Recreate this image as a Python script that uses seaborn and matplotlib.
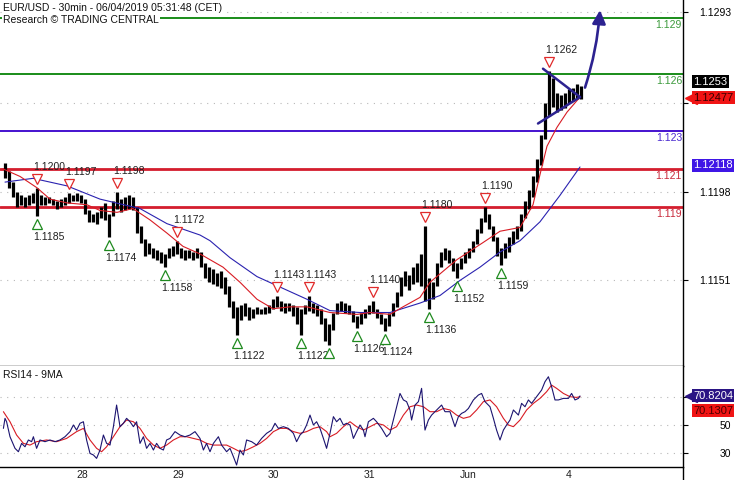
import numpy as np
import matplotlib
matplotlib.use("Agg")
import matplotlib.pyplot as plt
import matplotlib.transforms as mtransforms
from matplotlib.lines import Line2D
import seaborn as sns

sns.set_style("white")
plt.rcParams['font.family'] = ['Liberation Sans', 'DejaVu Sans']

# ---------------- data (time axis = 30-min bar index) ----------------
bar_high = [1.1213, 1.1209, 1.1203, 1.1198, 1.1196, 1.1195, 1.1196, 1.1197, 1.1200, 1.1196,
            1.1195, 1.1195, 1.1194, 1.1193, 1.1194, 1.1195, 1.1197, 1.1196, 1.1197, 1.1196,
            1.1194, 1.1188, 1.1186, 1.1187, 1.1190, 1.1192, 1.1186, 1.1193, 1.1198, 1.1194,
            1.1195, 1.1196, 1.1195, 1.1190, 1.1180, 1.1173, 1.1171, 1.1168, 1.1167, 1.1166,
            1.1165, 1.1168, 1.1169, 1.1172, 1.1168, 1.1167, 1.1167, 1.1166, 1.1168, 1.1166,
            1.1160, 1.1158, 1.1157, 1.1155, 1.1156, 1.1153, 1.1148, 1.1140, 1.1137, 1.1138,
            1.1139, 1.1137, 1.1136, 1.1137, 1.1136, 1.1137, 1.1138, 1.1141, 1.1143, 1.1140,
            1.1139, 1.1139, 1.1138, 1.1137, 1.1136, 1.1138, 1.1143, 1.1139, 1.1138, 1.1136,
            1.1131, 1.1128, 1.1134, 1.1139, 1.1140, 1.1139, 1.1138, 1.1135, 1.1132, 1.1134,
            1.1136, 1.1138, 1.1140, 1.1136, 1.1133, 1.1131, 1.1134, 1.1139, 1.1145, 1.1153,
            1.1156, 1.1154, 1.1158, 1.1160, 1.1165, 1.1180, 1.1152, 1.1150, 1.1160, 1.1166,
            1.1168, 1.1167, 1.1163, 1.1160, 1.1163, 1.1166, 1.1168, 1.1172, 1.1178, 1.1184,
            1.1190, 1.1186, 1.1180, 1.1174, 1.1168, 1.1171, 1.1174, 1.1177, 1.1180, 1.1186,
            1.1193, 1.1199, 1.1206, 1.1215, 1.1228, 1.1245, 1.1262, 1.1258, 1.1250, 1.1249,
            1.1250, 1.1252, 1.1253, 1.1255, 1.1254]
bar_low = [1.1205, 1.1200, 1.1195, 1.1190, 1.1191, 1.1190, 1.1191, 1.1192, 1.1185, 1.1191,
           1.1191, 1.1192, 1.1191, 1.1189, 1.1190, 1.1191, 1.1192, 1.1193, 1.1193, 1.1192,
           1.1186, 1.1182, 1.1182, 1.1181, 1.1184, 1.1183, 1.1174, 1.1185, 1.1189, 1.1187,
           1.1188, 1.1189, 1.1188, 1.1176, 1.1171, 1.1164, 1.1165, 1.1163, 1.1162, 1.1160,
           1.1158, 1.1163, 1.1164, 1.1165, 1.1163, 1.1162, 1.1163, 1.1162, 1.1163, 1.1158,
           1.1152, 1.1150, 1.1149, 1.1148, 1.1147, 1.1144, 1.1137, 1.1131, 1.1122, 1.1130,
           1.1132, 1.1130, 1.1131, 1.1133, 1.1133, 1.1133, 1.1134, 1.1136, 1.1137, 1.1135,
           1.1134, 1.1135, 1.1132, 1.1128, 1.1122, 1.1133, 1.1135, 1.1134, 1.1132, 1.1128,
           1.1119, 1.1117, 1.1125, 1.1133, 1.1135, 1.1134, 1.1133, 1.1129, 1.1126, 1.1128,
           1.1131, 1.1133, 1.1134, 1.1131, 1.1128, 1.1124, 1.1127, 1.1132, 1.1137, 1.1143,
           1.1148, 1.1146, 1.1149, 1.1150, 1.1148, 1.1140, 1.1136, 1.1141, 1.1148, 1.1158,
           1.1162, 1.1160, 1.1156, 1.1152, 1.1157, 1.1160, 1.1163, 1.1166, 1.1170, 1.1176,
           1.1182, 1.1178, 1.1172, 1.1164, 1.1159, 1.1163, 1.1166, 1.1170, 1.1173, 1.1177,
           1.1184, 1.1189, 1.1195, 1.1203, 1.1212, 1.1226, 1.1238, 1.1243, 1.1240, 1.1241,
           1.1242, 1.1245, 1.1246, 1.1247, 1.1247]
bar_step = 2  # each drawn bar spans two 30-min periods

ma_fast_t = [-1, 7.5, 16, 22.5, 31, 41, 47.5, 56, 64, 72.5, 81, 89, 97.5, 109, 117.5, 126, 134,
             142.5, 151, 162.5, 176, 182.5, 192.5, 199, 207.5, 212.5, 226, 239, 247.5, 257.5,
             264, 267.5, 271, 276, 281, 287.5]
ma_fast_v = [1.1210, 1.1206, 1.1200, 1.1194, 1.1192, 1.1191, 1.1188, 1.1187, 1.1189, 1.1183,
             1.1176, 1.1169, 1.1165, 1.1158, 1.1150, 1.1141, 1.1136, 1.1137, 1.1137, 1.1134,
             1.1133, 1.1134, 1.1133, 1.1137, 1.1142, 1.1150, 1.1162, 1.1171, 1.1177, 1.1179,
             1.1191, 1.1207, 1.1222, 1.1232, 1.1240, 1.1248]
ma_slow_t = [0, 14, 31, 47.5, 67.5, 81, 97.5, 102.5, 112.5, 126, 151, 162.5, 177.5, 192.5,
             207.5, 217.5, 227.5, 237.5, 247.5, 257.5, 267.5, 277.5, 287.5]
ma_slow_v = [1.1203, 1.1205, 1.1201, 1.1194, 1.1189, 1.1181, 1.1175, 1.1172, 1.1163, 1.1153,
             1.1141, 1.1135, 1.1134, 1.1134, 1.1139, 1.1143, 1.1151, 1.1158, 1.1166, 1.1172,
             1.1182, 1.1196, 1.1211]

rsi_t = [-0.8, 0.0, 0.8, 2.5, 5.0, 6.7, 8.3, 10.0, 11.7, 13.3, 14.2, 15.8, 17.5, 20.0, 22.5,
         25.0, 27.5, 30.0, 32.5, 34.2, 35.8, 37.5, 39.2, 40.8, 42.5, 44.2, 45.8, 47.5, 49.2,
         50.8, 52.5, 54.2, 55.8, 57.5, 59.2, 60.8, 62.5, 64.2, 65.8, 67.5, 69.2, 70.8, 72.5,
         74.2, 75.8, 77.5, 79.2, 80.8, 82.5, 85.0, 87.5, 90.0, 92.5, 95.0, 97.5, 99.2, 100.8,
         102.5, 104.2, 106.7, 108.3, 110.8, 112.5, 114.2, 115.8, 117.5, 119.2, 120.8, 123.3,
         125.8, 128.3, 130.8, 133.3, 135.0, 136.7, 139.2, 141.7, 144.2, 145.8, 147.5, 149.2,
         150.8, 152.5, 154.2, 155.8, 157.5, 159.2, 160.8, 162.5, 164.2, 165.8, 167.5, 169.2,
         170.8, 172.5, 174.2, 175.8, 177.5, 179.2, 180.0, 181.7, 184.2, 185.8, 188.3, 190.8,
         192.5, 195.0, 197.5, 199.2, 200.8, 202.5, 203.3, 205.0, 206.7, 208.3, 210.0, 211.7,
         213.3, 215.0, 216.7, 218.3, 220.0, 222.5, 225.0, 226.7, 228.3, 230.0, 231.7, 234.2,
         236.7, 238.3, 240.0, 242.5, 244.2, 245.8, 247.5, 249.2, 250.8, 252.5, 254.2, 256.7,
         258.3, 260.0, 261.7, 263.3, 265.8, 268.3, 270.0, 271.7, 273.3, 275.0, 276.7, 279.2,
         281.7, 283.3, 285.0, 286.7, 287.5]
rsi_v = [47.6, 54.7, 52.3, 41.7, 33.5, 31.1, 37.0, 34.6, 39.4, 38.2, 41.7, 33.5, 39.4, 38.2, 39.4,
         38.2, 39.4, 41.7, 45.3, 50.0, 46.4, 51.2, 52.3, 39.4, 29.9, 28.8, 26.4, 32.3, 42.9,
         37.0, 35.8, 48.8, 64.1, 48.8, 51.2, 54.7, 52.3, 48.8, 52.3, 37.0, 41.7, 33.5, 37.0,
         32.3, 37.0, 33.5, 32.3, 39.4, 40.5, 45.3, 42.9, 41.7, 42.9, 45.3, 40.5, 32.3, 37.0,
         31.1, 37.0, 41.7, 35.8, 31.1, 33.5, 27.6, 21.7, 32.3, 28.8, 39.4, 38.2,
         35.8, 40.5, 44.1, 46.4, 51.2, 47.6, 48.8, 47.6, 44.1, 38.2, 42.9, 45.3,
         50.0, 57.0, 50.0, 52.3, 47.6, 40.5, 33.5, 44.1, 55.9, 52.3, 54.7, 50.0,
         51.2, 50.0, 40.5, 45.3, 50.0, 46.4, 41.7, 52.3, 54.7, 52.3, 47.6, 41.7,
         44.1, 58.2, 72.3, 67.7, 66.5, 60.6, 53.5, 64.1, 66.5, 75.9, 46.4, 53.5,
         57.0, 59.4, 61.7, 64.1, 59.4, 59.4, 48.8, 55.9, 58.2, 59.4, 61.7, 67.7,
         71.2, 72.3, 66.5, 62.9, 54.7, 46.4, 39.4, 46.4, 50.0, 53.5, 60.6, 57.0,
         65.3, 62.9, 67.7, 65.3, 70.0, 74.7, 80.6, 84.1, 77.1, 67.7, 67.7, 68.8,
         68.8, 72.3, 67.7, 68.8, 70.5]
rsi_ma_t = [-0.8, 2.5, 5.8, 9.2, 12.5, 15.8, 20.8, 25.8, 30.8, 35.8, 39.2, 42.5, 45.8, 48.3,
            50.8, 54.2, 57.5, 60.8, 64.2, 67.5, 70.8, 74.2, 77.5, 80.8, 84.2, 87.5, 90.8, 94.2,
            97.5, 100.8, 104.2, 107.5, 110.8, 114.2, 117.5, 120.8, 124.2, 127.5, 130.8, 134.2,
            137.5, 140.8, 144.2, 147.5, 150.8, 154.2, 157.5, 160.8, 162.5, 165.8, 169.2, 172.5,
            175.8, 179.2, 182.5, 185.8, 189.2, 192.5, 195.8, 199.2, 202.5, 205.8, 209.2, 212.5,
            215.8, 219.2, 222.5, 225.8, 229.2, 232.5, 235.8, 239.2, 242.5, 245.8, 249.2, 251.7,
            254.2, 257.5, 260.8, 264.2, 267.5, 270.8, 273.3, 275.8, 279.2, 282.5, 285.8, 287.5]
rsi_ma_v = [59.4, 52.3, 42.9, 37.0, 35.8, 38.2, 39.4, 38.2, 40.5, 45.3, 47.6, 39.4, 33.5, 31.1,
            34.6, 41.7, 48.8, 53.5, 52.3, 47.6, 40.5, 35.8, 33.5, 35.8, 39.4, 41.7, 41.7, 40.5,
            39.4, 37.0, 35.8, 35.8, 35.8, 33.5, 31.1, 32.3, 34.6, 37.0, 40.5, 45.3,
            47.6, 47.6, 45.3, 44.1, 45.3, 47.6, 48.8, 45.3, 41.7, 44.1, 48.8, 52.3,
            48.8, 46.4, 48.8, 51.2, 50.0, 46.4, 48.8, 57.0, 62.9, 64.1, 62.9, 59.4,
            59.4, 61.7, 60.6, 57.0, 54.7, 55.9, 60.6, 66.5, 67.7, 62.9, 54.7, 50.0,
            48.8, 53.5, 60.6, 65.3, 68.8, 73.5, 78.2, 75.9, 72.3, 70.0, 69.5, 70.0]

levels = [1.129, 1.126, 1.123, 1.121, 1.119]
level_labels = ['1.129', '1.126', '1.123', '1.121', '1.119']
level_colors = ['#1f8f1f', '#1f8f1f', '#4a18d0', '#d41e2e', '#d41e2e']
level_text_colors = ['#3c9a3c', '#3c9a3c', '#4a2ad0', '#c8283a', '#c8283a']
level_widths = [2.0, 2.0, 2.0, 2.8, 2.8]

swing_high_t = [16, 32, 56, 86, 136, 152, 184, 210, 240, 272]
swing_high_v = [1.1200, 1.1197, 1.1198, 1.1172, 1.1143, 1.1143, 1.1140, 1.1180, 1.1190, 1.1262]
swing_low_t = [16, 52, 80, 116, 148, 162, 176, 190, 212, 226, 248]
swing_low_v = [1.1185, 1.1174, 1.1158, 1.1122, 1.1122, 1.1117, 1.1126, 1.1124, 1.1136, 1.1152, 1.1159]
swing_low_labels = ['1.1185', '1.1174', '1.1158', '1.1122', '1.1122', '', '1.1126', '1.1124',
                    '1.1136', '1.1152', '1.1159']

pattern_upper_t = [269, 287.5]
pattern_upper_v = [1.1263, 1.1248]
pattern_lower_t = [266.5, 287.5]
pattern_lower_v = [1.1234, 1.1248]
arrow_start = (290, 1.1253)
arrow_end = (297.5, 1.1294)

day_tick_t = [34, 82, 130, 178, 226, 279]
day_labels = ['28', '29', '30', '31', 'Jun', '4']
price_ticks = [1.1151, 1.1198, 1.1245, 1.1293]
price_tick_labels = ['1.1151', '1.1198', '', '1.1293']   # 1.1245 sits under the price boxes
rsi_ticks = [30, 50, 70]
rsi_tick_labels = ['30', '50', '']                       # 70 sits under the RSI boxes

last_high = 1.1253
last_close = 1.12477
slow_ma_last = 1.12118
rsi_last = 70.8204
rsi_ma_last = 70.1307

title_line1 = "EUR/USD - 30min - 06/04/2019 05:31:48 (CET)"
title_line2 = "Research \u00a9 TRADING CENTRAL"
rsi_title = "RSI14 - 9MA"

# ---------------- figure ----------------
W, H = 735, 480
fig = plt.figure(figsize=(W / 100, H / 100), dpi=100)
AX_R = 683
ax = fig.add_axes([0, (H - 366) / H, AX_R / W, 366 / H])
ax2 = fig.add_axes([0, (H - 467) / H, AX_R / W, 101 / H], sharex=ax)

for a in (ax, ax2):
    a.set_facecolor('white')
    for s in ('left', 'top'):
        a.spines[s].set_visible(False)
    for s in ('right', 'bottom'):
        a.spines[s].set_color('black')
        a.spines[s].set_linewidth(1.0)

ax.set_xlim(-2.5, 339)
ax.set_ylim(1.110570, 1.129935)
ax2.set_ylim(20.3, 91.7)

grid_kw = dict(color='#b8b8b8', lw=0.8, ls=(0, (1, 5)), zorder=0)
for p in price_ticks:
    ax.axhline(p, **grid_kw)
for r in rsi_ticks:
    ax2.axhline(r, **grid_kw)

# support / resistance levels
lab_tr = mtransforms.blended_transform_factory(ax.transAxes, ax.transData)
for lv, lab, c, tc, lw in zip(levels, level_labels, level_colors, level_text_colors, level_widths):
    ax.axhline(lv, color=c, lw=lw * 0.72, zorder=2)
    ax.text(682 / AX_R, lv, lab, transform=lab_tr + mtransforms.ScaledTranslation(0, -7 / 100, fig.dpi_scale_trans),
            ha='right', va='center', fontsize=7.5, color=tc, zorder=3)

# price bars
bar_t = np.arange(len(bar_high)) * bar_step
ax.vlines(bar_t, bar_low, bar_high, color='black', lw=2.3, zorder=4)

# moving averages
sns.lineplot(x=ma_slow_t, y=ma_slow_v, ax=ax, color='#2a22b0', lw=0.8, sort=False, estimator=None, zorder=5)
sns.lineplot(x=ma_fast_t, y=ma_fast_v, ax=ax, color='#d81c24', lw=0.8, sort=False, estimator=None, zorder=5)

# swing markers
def off(a, dy):
    return mtransforms.offset_copy(a.transData, fig=fig, x=0, y=dy, units='dots')

for t, v in zip(swing_high_t, swing_high_v):
    ax.plot([t], [v], marker='v', ms=7.8, mfc='white', mec='#e02a2a', mew=0.9,
            transform=off(ax, 9), zorder=6, ls='none')
    ax.text(t, v, f'{v:.4f}', transform=mtransforms.offset_copy(ax.transData, fig=fig, x=-4, y=21, units='dots'),
            ha='left', va='center', fontsize=7.5, color='#202020', zorder=6)
for t, v, lab in zip(swing_low_t, swing_low_v, swing_low_labels):
    ax.plot([t], [v], marker='^', ms=7.8, mfc='white', mec='#1f8a1f', mew=0.9,
            transform=off(ax, -8), zorder=6, ls='none')
    if lab:
        ax.text(t, v, lab, transform=mtransforms.offset_copy(ax.transData, fig=fig, x=-4, y=-21, units='dots'),
                ha='left', va='center', fontsize=7.5, color='#202020', zorder=6)

# pattern drawing
navy = '#2c2290'
ax.plot(pattern_upper_t, pattern_upper_v, color=navy, lw=1.8, zorder=7, solid_capstyle='round')
ax.plot(pattern_lower_t, pattern_lower_v, color=navy, lw=1.8, zorder=7, solid_capstyle='round')
ax.annotate('', xy=arrow_end, xytext=arrow_start, annotation_clip=False,
            arrowprops=dict(arrowstyle='-|>', lw=1.9, color=navy, mutation_scale=20,
                            shrinkA=0, shrinkB=0, connectionstyle='arc3,rad=0.06'), zorder=7)

# RSI panel
sns.lineplot(x=rsi_ma_t, y=rsi_ma_v, ax=ax2, color='#d81c24', lw=0.8, sort=False, estimator=None, zorder=4)
sns.lineplot(x=rsi_t, y=rsi_v, ax=ax2, color='#1c1470', lw=0.8, sort=False, estimator=None, zorder=5)

# axes ticks
ax.yaxis.tick_right()
ax.set_yticks(price_ticks)
ax.set_yticklabels(price_tick_labels)
ax.tick_params(axis='y', direction='out', length=3.6, width=0.8, pad=31, labelsize=7.5, colors='black')
for lbl in ax.get_yticklabels():
    lbl.set_ha('right')
ax.tick_params(axis='x', which='both', bottom=False, labelbottom=False)
ax.set_xlabel('')
ax.set_ylabel('')

ax2.yaxis.tick_right()
ax2.set_yticks(rsi_ticks)
ax2.set_yticklabels(rsi_tick_labels)
ax2.tick_params(axis='y', direction='out', length=3.6, width=0.8, pad=31, labelsize=7.5, colors='black')
for lbl in ax2.get_yticklabels():
    lbl.set_ha('right')
ax2.set_xticks(day_tick_t)
ax2.set_xticklabels(day_labels)
ax2.tick_params(axis='x', direction='out', length=5, width=0.8, pad=-3, labelsize=7.5, colors='#202020')
for lbl in ax2.get_xticklabels():
    lbl.set_ha('left')
    lbl.set_transform(lbl.get_transform() + mtransforms.ScaledTranslation(3 / 100, 0, fig.dpi_scale_trans))
ax2.set_xlabel('')
ax2.set_ylabel('')

# value boxes on the right axis
def value_box(a, y, text, fc, tc, dy=0, pointer=False):
    tr = mtransforms.blended_transform_factory(a.transAxes, a.transData) + \
        mtransforms.ScaledTranslation(0, dy / 100, fig.dpi_scale_trans)
    a.text(1 + 10 / AX_R, y, text, transform=tr, ha='left', va='center', fontsize=8, color=tc,
           bbox=dict(boxstyle='square,pad=0.13', fc=fc, ec='none'), clip_on=False, zorder=20)
    if pointer:
        a.plot([1 + 8 / AX_R], [y], marker='<', ms=9, color=fc, mec=fc, transform=tr,
               clip_on=False, zorder=19)

value_box(ax, slow_ma_last, f'{slow_ma_last:.5f}', '#3f16e6', 'white')
value_box(ax, last_close, f'{last_close:.5f}', '#f01414', '#3a0000', pointer=True)
value_box(ax, last_high, f'{last_high:.4f}', 'black', 'white', dy=6)
value_box(ax2, rsi_last, f'{rsi_last:.4f}', '#2a1484', 'white', pointer=True)
value_box(ax2, rsi_ma_last, f'{rsi_ma_last:.4f}', '#f01414', '#4a0000', dy=-14)

# frame line reaching the figure bottom
fig.add_artist(Line2D([AX_R / W, AX_R / W], [0, (H - 467) / H], transform=fig.transFigure,
                      color='black', lw=1.0))

# titles
tbox = dict(boxstyle='square,pad=0.1', fc='white', ec='none')
fig.text(3 / W, 1 - 8 / H, title_line1, ha='left', va='center', fontsize=7.5, color='#111111', bbox=tbox)
fig.text(3 / W, 1 - 20 / H, title_line2, ha='left', va='center', fontsize=7.5, color='#111111', bbox=tbox)
fig.text(3 / W, 1 - 375 / H, rsi_title, ha='left', va='center', fontsize=7.5, color='#111111')

fig.savefig('out.png', dpi=100)
